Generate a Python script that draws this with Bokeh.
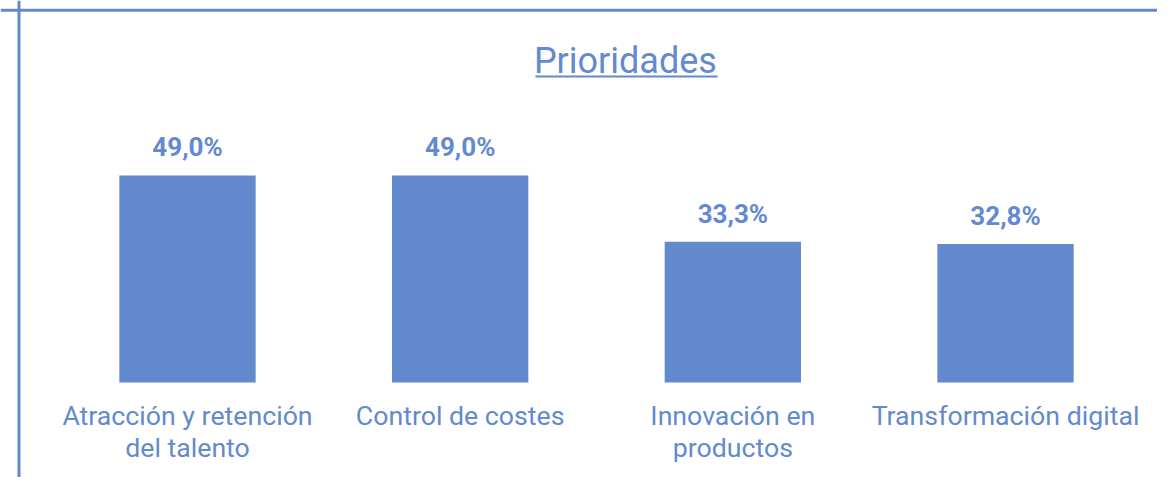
from bokeh.plotting import figure
from bokeh.models import Range1d, Span, ColumnDataSource
from bokeh.core.properties import value
from bokeh.embed import file_html
from bokeh.resources import INLINE

categories = ["Atracción y retención\ndel talento", "Control de costes", "Innovación en\nproductos", "Transformación digital"]
values = [49.0, 49.0, 33.3, 32.8]
value_labels = ["49,0%", "49,0%", "33,3%", "32,8%"]
title_text = "Prioridades"

COLOR = "#638ACE"
FONT = "Roboto"

idx = list(range(len(categories)))
src = ColumnDataSource(dict(x=idx, top=values, lab=value_labels, cat=categories, zero=[0]*len(idx)))

p = figure(width=1157, height=477, output_backend="svg", toolbar_location=None,
           x_range=Range1d(-0.6858, 3.5574), y_range=Range1d(-22.49, 90.41),
           min_border=0, min_border_left=0, min_border_right=0, min_border_top=0, min_border_bottom=0)
p.axis.visible = False
p.grid.visible = False
p.outline_line_color = None
p.background_fill_color = "white"
p.border_fill_color = "white"

# border (left + top)
p.add_layout(Span(location=-0.618, dimension="height", line_color=COLOR, line_width=3))
p.add_layout(Span(location=88.09, dimension="width", line_color=COLOR, line_width=3))

p.vbar(x="x", top="top", bottom=0, width=0.5, source=src, fill_color=COLOR, line_color=None)

p.text(x="x", y="top", text="lab", source=src, text_font=value(FONT), text_font_style="bold",
       text_font_size="26px", text_color=COLOR, text_align="center", text_baseline="alphabetic",
       y_offset=-28)

p.text(x="x", y="zero", text="cat", source=src, text_font=value(FONT),
       text_font_size="26.7px", text_color=COLOR, text_align="center", text_baseline="top",
       y_offset=18, text_line_height=1.0)

# title with underline
p.text(x=[1.606], y=[73.49], text=[title_text], text_font=value(FONT), text_font_size="36px",
       text_color=COLOR, text_align="center", text_baseline="alphabetic", y_offset=-11)
p.segment(x0=[1.276], y0=[72.43], x1=[1.944], y1=[72.43], line_color=COLOR, line_width=2)

open("out.html", "w").write(file_html(p, INLINE))
